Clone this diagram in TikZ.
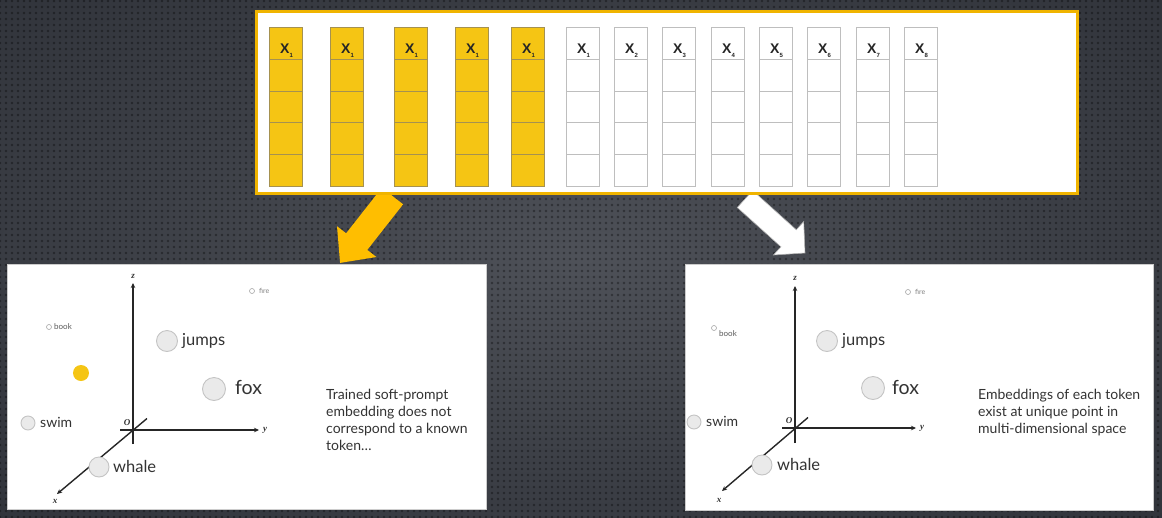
\documentclass[tikz,border=0pt]{standalone}
\usepackage{fontspec}
\setmainfont{Lato}
\newfontfamily\arialf{Liberation Sans}
\newfontfamily\seriff{Liberation Serif}
\usetikzlibrary{arrows.meta,calc,patterns.meta}
\definecolor{bgin}{RGB}{78,81,88}
\definecolor{bgmid}{RGB}{60,63,70}
\definecolor{bgedge}{RGB}{46,49,56}
\definecolor{bgout}{RGB}{34,36,42}
\definecolor{boxyel}{RGB}{240,180,0}
\definecolor{cellyel}{RGB}{245,197,20}
\definecolor{arryel}{RGB}{255,190,0}
\definecolor{ydiv}{RGB}{165,145,80}
\definecolor{wdiv}{RGB}{190,190,190}
\definecolor{ptfill}{RGB}{234,234,234}
\definecolor{ptline}{RGB}{196,196,196}
\definecolor{txt}{RGB}{51,51,51}
\pgfdeclareradialshading{bgshade}{\pgfpoint{0bp}{0bp}}{color(0bp)=(bgin); color(20bp)=(bgmid); color(40bp)=(bgedge); color(50bp)=(bgout); color(100bp)=(bgout)}
\begin{document}
\begin{tikzpicture}[x=1pt,y=-1pt,
  colbox/.style={rectangle, minimum width=33pt, minimum height=159pt, inner sep=0pt, anchor=north west, line width=0.8pt},
  ycol/.style={colbox, fill=cellyel, draw=ydiv},
  wcol/.style={colbox, fill=white, draw=wdiv},
  xlab/.style={anchor=base west, inner sep=0pt, font=\arialf\bfseries\fontsize{14}{14}\selectfont, text=black!85},
  panel/.style={rectangle, fill=white, draw=gray!40, line width=0.6pt, inner sep=0pt, anchor=north west},
  pt/.style={circle, fill=ptfill, draw=ptline, line width=0.9pt, inner sep=0pt},
  ptsmall/.style={circle, fill=white, draw=gray!70, line width=0.6pt, inner sep=0pt, minimum size=5pt},
  plab/.style={anchor=west, inner sep=0pt, text=txt},
  axisline/.style={line width=1.4pt, draw=black!85, -{Stealth[length=5pt,width=4.5pt]}},
  axlab/.style={inner sep=0pt, font=\seriff\bfseries\itshape\fontsize{9}{9}\selectfont, text=black!80},
  ptext/.style={anchor=north west, inner sep=0pt, align=left, text=txt, font=\fontsize{14}{17}\selectfont}
]
\useasboundingbox (0,0) rectangle (1162,517);
\shade[shading=bgshade] (0,0) rectangle (1162,517);
\fill[pattern={Dots[radius=1.4pt,distance=6pt]}, pattern color=black, fill opacity=0.35] (0,0) rectangle (1162,517);

% block arrows (behind the box)
\fill[arryel] (403.1,204.3) -- (367.3,249.9) -- (376.4,257.0) -- (340.1,262.9)
  -- (337.0,226.2) -- (346.1,233.3) -- (381.9,187.7) -- cycle;
\filldraw[fill=white, draw=gray!60, line width=0.6pt] (737.3,207.5) -- (780.9,246.8) -- (773.5,255.0) -- (805,253)
  -- (803.7,221.6) -- (796.3,229.8) -- (752.7,190.5) -- cycle;

% top box
\node[rectangle, draw=boxyel, fill=white, line width=3pt, inner sep=0pt, anchor=north west,
  minimum width=821pt, minimum height=182pt] (topbox) at (254.5,9.5) {};

% yellow columns
\foreach \i/\x in {1/269,2/330,3/394,4/455,5/511} {
  \node[ycol] (c\i) at (\x,27) {};
  \foreach \k in {1,...,4} {
    \draw[ydiv, line width=0.8pt] ($(c\i.north west)!\k/5!(c\i.south west)$) -- ($(c\i.north east)!\k/5!(c\i.south east)$);
  }
  \node[xlab] (l\i) at ($(c\i.north west)+(11,26)$) {X\raisebox{-4pt}{\fontsize{6}{6}\selectfont 1}};
}
% white columns
\foreach \i/\x/\s in {6/566/1,7/614/2,8/662/3,9/711/4,10/759/5,11/807/6,12/856/7,13/904/8} {
  \node[wcol] (c\i) at (\x,27) {};
  \foreach \k in {1,...,4} {
    \draw[wdiv, line width=0.8pt] ($(c\i.north west)!\k/5!(c\i.south west)$) -- ($(c\i.north east)!\k/5!(c\i.south east)$);
  }
  \node[xlab] (l\i) at ($(c\i.north west)+(11,26)$) {X\raisebox{-4pt}{\fontsize{6}{6}\selectfont \s}};
}

% ---------------- left panel ----------------
\node[panel, minimum width=479pt, minimum height=245pt] (lp) at (7,264) {};
\coordinate (lo) at (133,430);
\coordinate (lzb) at (133,444);
\coordinate (lzt) at (133,283);
\coordinate (lyl) at (120,430);
\coordinate (lyr) at (259,430);
\coordinate (lxu) at (147,418.5);
\coordinate (lxd) at (57,494);
\draw[axisline] (lzb) -- (lzt);
\draw[axisline] (lyl) -- (lyr);
\draw[axisline] (lxu) -- (lxd);
\node[axlab] (lzl) at (133,276) {z};
\node[axlab] (lol) at (127,423) {O};
\node[axlab] (lyll) at (265,430) {y};
\node[axlab] (lxl) at (55,501) {x};

\node[ptsmall] (lfire) at (252,291) {};
\node[plab, font=\fontsize{7}{7}\selectfont, text=gray] (lfirel) at (259,291) {fire};
\node[ptsmall] (lbook) at (49,327) {};
\node[plab, font=\fontsize{8}{8}\selectfont, text=black!65] (lbookl) at (54,327) {book};
\node[pt, minimum size=21pt] (ljumps) at (167,341) {};
\node[plab, font=\fontsize{16.5}{16.5}\selectfont] (ljumpsl) at (182,341) {jumps};
\node[pt, minimum size=23pt] (lfox) at (214,389) {};
\node[plab, font=\fontsize{19.5}{19.5}\selectfont] (lfoxl) at (235,387) {fox};
\node[circle, fill=cellyel, inner sep=0pt, minimum size=16pt] (lsoft) at (81,373) {};
\node[pt, minimum size=14pt] (lswim) at (28,423) {};
\node[plab, font=\fontsize{14}{14}\selectfont] (lswiml) at (40,422) {swim};
\node[pt, minimum size=20pt] (lwhale) at (99,467) {};
\node[plab, font=\fontsize{16.5}{16.5}\selectfont] (lwhalel) at (113,466) {whale};
\node[ptext] (ltext) at (326,389) {Trained soft-prompt\\embedding does not\\correspond to a known\\token\ldots};

% ---------------- right panel ----------------
\node[panel, minimum width=468pt, minimum height=246pt] (rp) at (685,264) {};
\coordinate (ro) at (795,428);
\coordinate (rzb) at (795,443);
\coordinate (rzt) at (795,286);
\coordinate (ryl) at (782,428);
\coordinate (ryr) at (916,428);
\coordinate (rxu) at (808,417.5);
\coordinate (rxd) at (722,491);
\draw[axisline] (rzb) -- (rzt);
\draw[axisline] (ryl) -- (ryr);
\draw[axisline] (rxu) -- (rxd);
\node[axlab] (rzl) at (795,278) {z};
\node[axlab] (rol) at (789,421) {O};
\node[axlab] (ryll) at (922,428) {y};
\node[axlab] (rxl) at (719,500) {x};

\node[ptsmall] (rfire) at (908,292) {};
\node[plab, font=\fontsize{7}{7}\selectfont, text=gray] (rfirel) at (915,292) {fire};
\node[ptsmall] (rbook) at (714,328) {};
\node[plab, font=\fontsize{8}{8}\selectfont, text=black!65] (rbookl) at (719,334) {book};
\node[pt, minimum size=21pt] (rjumps) at (827,341) {};
\node[plab, font=\fontsize{16.5}{16.5}\selectfont] (rjumpsl) at (842,341) {jumps};
\node[pt, minimum size=23pt] (rfox) at (873,388) {};
\node[plab, font=\fontsize{19.5}{19.5}\selectfont] (rfoxl) at (892,387) {fox};
\node[pt, minimum size=14pt] (rswim) at (694,422) {};
\node[plab, font=\fontsize{14}{14}\selectfont] (rswiml) at (706,421) {swim};
\node[pt, minimum size=20pt] (rwhale) at (762,465) {};
\node[plab, font=\fontsize{16.5}{16.5}\selectfont] (rwhalel) at (777,464) {whale};
\node[ptext] (rtext) at (978,389) {Embeddings of each token\\exist at unique point in\\multi-dimensional space};
\end{tikzpicture}
\end{document}
